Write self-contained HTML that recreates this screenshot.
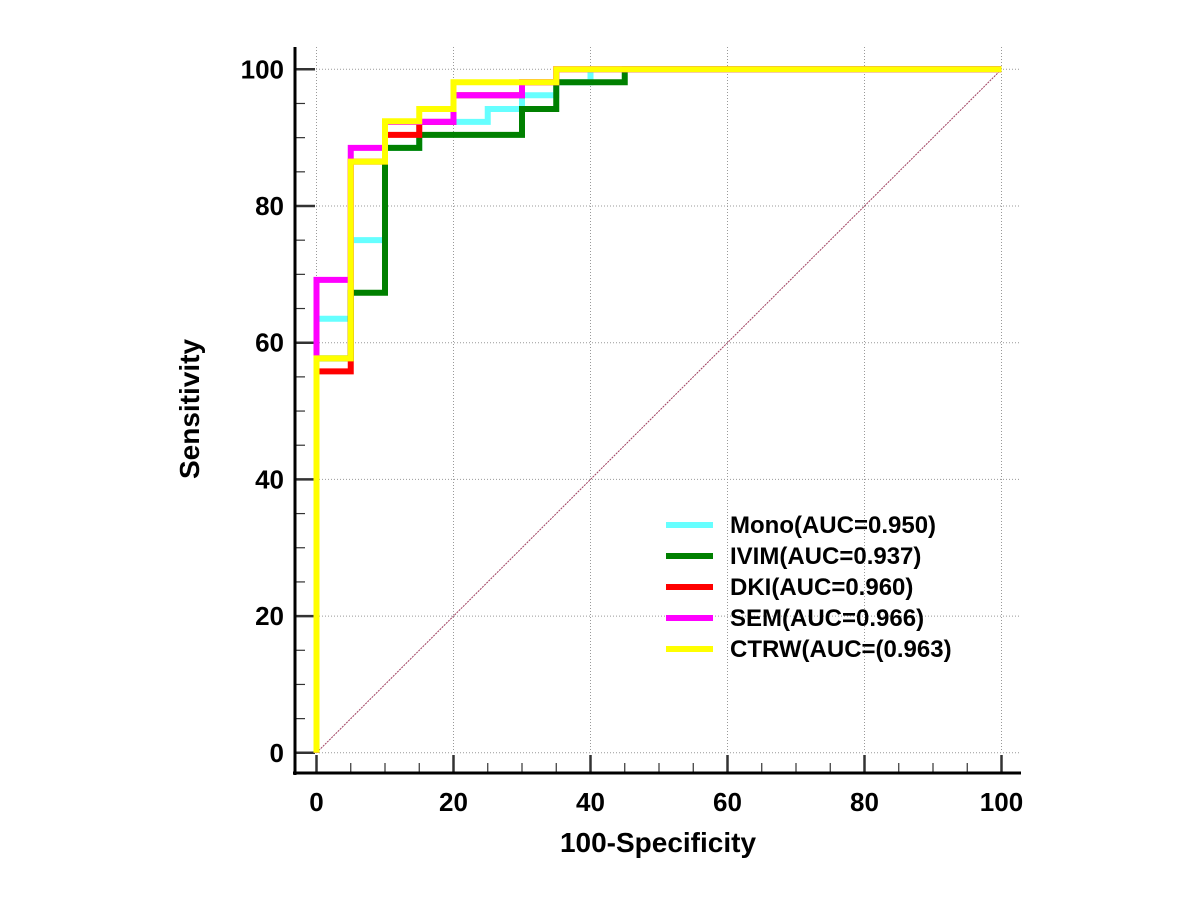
<!DOCTYPE html>
<html><head><meta charset="utf-8"><style>
html,body{margin:0;padding:0;background:#fff;}
svg text{font-family:"Liberation Sans",Arial,sans-serif;font-weight:bold;fill:#000;}
</style></head><body>
<svg id="chart" width="1200" height="900" xmlns="http://www.w3.org/2000/svg">
<g id="grid"></g>
<g id="axes"></g>
<g id="series"></g>
<g id="legend"></g>
<text x="658" y="852" font-size="28" text-anchor="middle">100-Specificity</text>
<text x="0" y="0" font-size="28" text-anchor="middle" transform="translate(199,409) rotate(-90)">Sensitivity</text>
</svg>
<script>
const xTicks=[0,20,40,60,80,100];
const yTicks=[0,20,40,60,80,100];
const seriesNames=["Mono(AUC=0.950)","IVIM(AUC=0.937)","DKI(AUC=0.960)","SEM(AUC=0.966)","CTRW(AUC=(0.963)"];
const seriesColors=["#66ffff","#008000","#ff0000","#ff00ff","#ffff00"];
const monoX=[0,0,5,10,15,20,25,30,35,40,100];
const monoY=[0,63.5,75,88.5,92.3,92.3,94.2,96.2,98.1,100,100];
const ivimX=[0,0,5,10,15,30,35,45,100];
const ivimY=[0,57.7,67.3,88.5,90.4,94.2,98.1,100,100];
const dkiX=[0,0,5,10,15,20,30,35,100];
const dkiY=[0,55.8,86.5,90.4,92.3,96.2,98.1,100,100];
const semX=[0,0,5,10,20,30,35,100];
const semY=[0,69.2,88.5,92.3,96.2,98.1,100,100];
const ctrwX=[0,0,5,10,15,20,35,100];
const ctrwY=[0,57.7,86.5,92.4,94.2,98.1,100,100];
const allX=[monoX,ivimX,dkiX,semX,ctrwX];
const allY=[monoY,ivimY,dkiY,semY,ctrwY];
const NS="http://www.w3.org/2000/svg";
const sx=v=>316.5+v*6.85;
const sy=v=>752.8-v*6.835;
function mk(tag,attrs,parent){const e=document.createElementNS(NS,tag);for(const k in attrs)e.setAttribute(k,attrs[k]);parent.appendChild(e);return e;}
const grid=document.getElementById('grid'),axes=document.getElementById('axes'),ser=document.getElementById('series'),leg=document.getElementById('legend');
xTicks.forEach(t=>{
 const g=mk('line',{x1:sx(t),x2:sx(t),y1:47,y2:752,stroke:'#999','stroke-width':1,'stroke-dasharray':'1,2'},grid);
 
 
 const tk=mk('line',{x1:sx(t),x2:sx(t),y1:773,y2:755,stroke:'#333','stroke-width':2.5},axes);
 
 
 const lb=mk('text',{x:sx(t),y:811,'font-size':26,'text-anchor':'middle'},axes);lb.textContent=t;
 
 
});
yTicks.forEach(t=>{
 const g=mk('line',{x1:316,x2:1020,y1:sy(t),y2:sy(t),stroke:'#999','stroke-width':1,'stroke-dasharray':'1,2'},grid);
 
 
 const tk=mk('line',{x1:295,x2:315,y1:sy(t),y2:sy(t),stroke:'#333','stroke-width':2.5},axes);
 
 
 const lb=mk('text',{x:284,y:sy(t)+9,'font-size':26,'text-anchor':'end'},axes);lb.textContent=t;
 
 
});
for(let v=5;v<100;v+=5){if(v%20===0)continue;
 const a=mk('line',{x1:sx(v),x2:sx(v),y1:773,y2:763,stroke:'#333','stroke-width':1.2},axes);
 
 
 const b=mk('line',{x1:295,x2:305,y1:sy(v),y2:sy(v),stroke:'#333','stroke-width':1.2},axes);
 
 
}
const ya=mk('line',{x1:295,x2:295,y1:47,y2:775,stroke:'#000','stroke-width':3},axes);


const xa=mk('line',{x1:293,x2:1021,y1:773,y2:773,stroke:'#000','stroke-width':3},axes);


const dg=mk('line',{x1:sx(0),y1:sy(0),x2:sx(100),y2:sy(100),stroke:'#a04060','stroke-width':1,'stroke-dasharray':'2,1'},ser);


allX.forEach((xs,i)=>{
 const ys=allY[i];let d='M'+sx(xs[0])+','+sy(ys[0]);
 for(let j=1;j<xs.length;j++){d+=' L'+sx(xs[j])+','+sy(ys[j-1])+' L'+sx(xs[j])+','+sy(ys[j]);}
 const p=mk('path',{d:d,fill:'none',stroke:seriesColors[i],'stroke-width':6,'stroke-linejoin':'miter'},ser);
 
 
 const ly=525+i*31;
 const l=mk('line',{x1:666,x2:713,y1:ly,y2:ly,stroke:seriesColors[i],'stroke-width':6},leg);
 
 
 const t=mk('text',{x:730,y:ly+8,'font-size':24},leg);t.textContent=seriesNames[i];
 
 
});
</script>
</body></html>
